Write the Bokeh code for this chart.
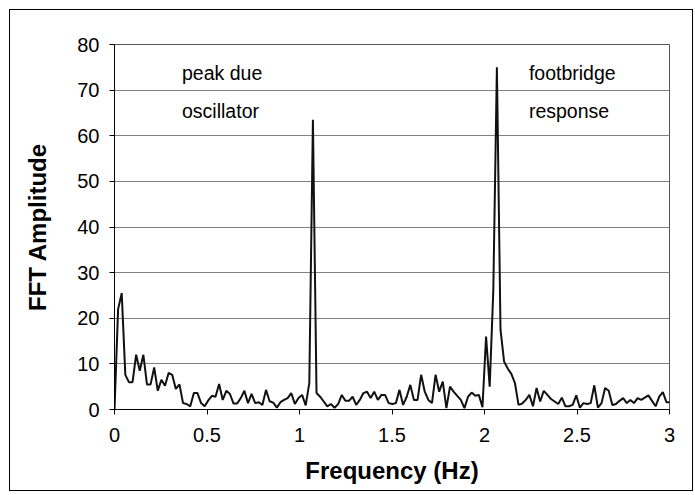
from bokeh.plotting import figure
from bokeh.models import FixedTicker, Range1d, Label
from bokeh.embed import file_html
from bokeh.resources import INLINE

# FFT bin spacing (Hz) and amplitudes
freq_step_hz = 0.0195
amplitude = [
    0, 22, 25.5, 7.6, 6.0, 6.0, 12, 8.5, 12, 5.5,
    5.5, 9.2, 4.1, 6.5, 5.2, 8, 7.6, 4.5, 5.5, 1.4,
    1.2, 0.7, 3.6, 3.6, 1.4, 0.7, 2.0, 3.0, 2.8, 5.6,
    2.1, 4.1, 3.4, 1.3, 1.3, 2.5, 4.1, 1.4, 3.4, 1.4,
    1.6, 1.0, 4.3, 1.8, 1.5, 0.4, 1.6, 2.1, 2.5, 3.6,
    1.2, 2.5, 3.2, 0.9, 5.8, 63.5, 3.6, 2.8, 1.75, 0.7,
    1.2, 0.4, 1.2, 3.2, 1.9, 1.9, 2.8, 1.0, 2.1, 3.6,
    3.9, 2.5, 3.9, 2.1, 3.2, 3.2, 1.4, 1.2, 1.4, 4.3,
    1.0, 2.8, 5.4, 2.1, 2.1, 7.6, 3.9, 2.1, 1.4, 7.6,
    3.9, 6.1, 0.3, 5.0, 3.9, 3.0, 2.1, 0.3, 2.8, 3.7,
    3.0, 3.2, 0.5, 16, 5, 26, 75, 17.5, 10.5, 9.0,
    7.8, 5.8, 1.0, 1.3, 2.1, 3.2, 0.7, 4.7, 1.75, 4.1,
    3.2, 2.3, 1.75, 1.2, 2.6, 0.7, 0.7, 1.0, 3.1, 0.4,
    1.4, 1.2, 1.4, 5.3, 0.4, 1.4, 4.7, 4.1, 1.0, 1.2,
    1.9, 2.5, 1.4, 2.1, 1.4, 2.5, 2.1, 2.6, 3.1, 1.9,
    0.7, 2.8, 3.8, 1.6, 1.6,
]
frequency = [round(i * freq_step_hz, 4) for i in range(len(amplitude))]

x_ticks = [0, 0.5, 1, 1.5, 2, 2.5, 3]
x_tick_labels = ["0", "0.5", "1", "1.5", "2", "2.5", "3"]
y_ticks = [0, 10, 20, 30, 40, 50, 60, 70, 80]
y_tick_labels = ["0", "10", "20", "30", "40", "50", "60", "70", "80"]

x_title = "Frequency (Hz)"
y_title = "FFT Amplitude"
note_left = ["peak due", "oscillator"]
note_right = ["footbridge", "response"]

FONT = "Liberation Sans"

p = figure(
    width=684, height=482,
    x_range=Range1d(0, 3), y_range=Range1d(0, 80),
    output_backend="svg", toolbar_location=None,
    min_border_left=104, min_border_right=25,
    min_border_top=34, min_border_bottom=83,
    margin=(9, 0, 0, 9),
)
p.styles = {"border": "1px solid #000000"}
p.background_fill_color = "white"
p.border_fill_color = "white"
p.outline_line_color = "#555555"
p.outline_line_width = 1

p.line(frequency, amplitude, line_color="#111111", line_width=2)

# axes
p.xaxis.ticker = FixedTicker(ticks=x_ticks)
p.xaxis.major_label_overrides = {t: l for t, l in zip(x_ticks, x_tick_labels)}
p.yaxis.ticker = FixedTicker(ticks=y_ticks)
p.yaxis.major_label_overrides = {t: l for t, l in zip(y_ticks, y_tick_labels)}

for ax in (p.xaxis[0], p.yaxis[0]):
    ax.axis_line_color = "#000000"
    ax.axis_line_width = 1
    ax.major_tick_line_color = "#000000"
    ax.major_tick_out = 5
    ax.major_tick_in = 0
    ax.minor_tick_line_color = None
    ax.major_label_text_font = FONT
    ax.major_label_text_font_size = "20px"
    ax.major_label_text_color = "#000000"
    ax.axis_label_text_font = FONT
    ax.axis_label_text_font_size = "24px"
    ax.axis_label_text_font_style = "bold"
    ax.axis_label_text_color = "#000000"

p.xaxis.axis_label = x_title
p.yaxis.axis_label = y_title
p.xaxis.major_label_standoff = 13
p.yaxis.major_label_standoff = 10
p.xaxis.axis_label_standoff = 12
p.yaxis.axis_label_standoff = 23

p.xgrid.grid_line_color = None
p.ygrid.ticker = FixedTicker(ticks=y_ticks)
p.ygrid.grid_line_color = "#808080"
p.ygrid.grid_line_width = 1

for i, t in enumerate(note_left):
    p.add_layout(Label(x=0.365, y=73.8 - i * 8.4, text=t, text_font=FONT,
                       text_font_size="19.5px", text_color="#000000",
                       text_baseline="middle", text_align="left"))
for i, t in enumerate(note_right):
    p.add_layout(Label(x=2.24, y=73.8 - i * 8.4, text=t, text_font=FONT,
                       text_font_size="19.5px", text_color="#000000",
                       text_baseline="middle", text_align="left"))

open("out.html", "w").write(file_html(p, INLINE))
